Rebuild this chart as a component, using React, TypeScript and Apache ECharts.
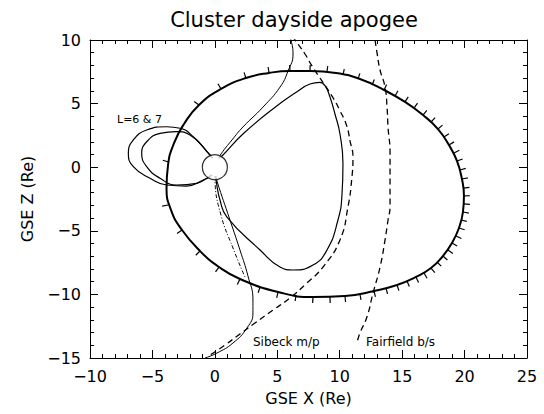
import React, { useEffect, useRef } from "react";
import * as echarts from "echarts";

const titleText = "Cluster dayside apogee";
const xName = "GSE X (Re)";
const zName = "GSE Z (Re)";
const loopLabel = "L=6 & 7";
const mpLabel = "Sibeck m/p";
const bsLabel = "Fairfield b/s";

const earth: number[][] = [[0, 0]];

const orbit: number[][] = [
  [7.62, 7.56], [9.7, 7.41], [11.62, 6.93], [13.55, 6.07], [15.23, 5.13], [16.67, 4.1],
  [17.87, 3.0], [18.75, 1.74], [19.39, 0.49], [19.79, -0.93], [19.95, -2.26], [19.87, -3.52],
  [19.55, -4.78], [18.99, -5.96], [18.27, -6.98], [17.31, -7.93], [16.11, -8.63], [14.59, -9.26],
  [12.75, -9.73], [10.42, -10.13], [7.86, -10.21], [5.06, -9.81], [2.01, -8.79], [0.33, -7.85],
  [-1.19, -6.59], [-2.63, -4.94], [-3.51, -3.37], [-3.87, -1.64], [-3.75, 0.17], [-3.27, 1.9],
  [-2.47, 3.4], [-1.27, 4.89], [0.49, 6.15], [2.49, 7.01], [4.34, 7.41], [6.02, 7.56], [7.62, 7.56],
];

const orbitTicks: number[][] = [
  [-3.71, 0.41], [-3.75, -2.97], [-2.63, -4.94], [-1.19, -6.59], [0.33, -7.85], [2.01, -8.79],
  [3.62, -9.42], [5.06, -9.81], [6.5, -10.05], [7.86, -10.21], [9.22, -10.21], [10.42, -10.13],
  [11.62, -9.97], [12.75, -9.73], [13.71, -9.5], [14.59, -9.26], [15.39, -8.95], [16.11, -8.63],
  [16.75, -8.32], [17.31, -7.93], [17.79, -7.45], [18.27, -6.98], [18.67, -6.51], [18.99, -5.96],
  [19.31, -5.41], [19.55, -4.78], [19.71, -4.15], [19.87, -3.52], [19.95, -2.89], [19.95, -2.26],
  [19.91, -1.64], [19.79, -0.93], [19.63, -0.22], [19.39, 0.49], [19.15, 1.12], [18.75, 1.74],
  [18.35, 2.37], [17.87, 3.0], [17.31, 3.55], [16.67, 4.1], [15.95, 4.65], [15.23, 5.13],
  [14.43, 5.6], [13.55, 6.07], [12.59, 6.46], [11.46, 6.93], [10.26, 7.25], [8.98, 7.48],
  [7.62, 7.56], [6.02, 7.56], [4.34, 7.41], [2.49, 7.01], [0.49, 6.15], [-1.27, 4.89],
];

const northOpen: number[][] = [
  [0.3, 0.7], [0.49, 1.04], [1.37, 2.14], [2.25, 3.16], [3.86, 4.73], [5.22, 6.3],
  [5.86, 7.56], [6.26, 8.9], [6.1, 10.0], [5.95, 10.4],
];

const daysideLoop: number[][] = [
  [0.3, 0.7], [0.57, 0.88], [2.25, 2.61], [4.98, 4.83], [6.55, 5.91], [7.62, 6.54], [8.42, 6.67],
  [8.82, 6.41], [9.22, 5.52], [9.62, 4.18], [10.02, 2.61], [10.26, 0.25], [10.18, -2.19],
  [9.86, -4.15], [8.98, -6.51], [7.86, -7.69], [6.26, -8.08], [5.22, -7.85], [3.62, -6.51],
  [0.97, -3.92], [0.41, -2.58], [0.09, -1.01], [0.05, -0.7],
];

const southOpen: number[][] = [
  [0.1, -0.7], [0.17, -1.09], [1.21, -4.15], [2.01, -6.51], [2.65, -8.55], [3.05, -10.44],
  [3.05, -11.46], [2.57, -12.64], [1.45, -13.82], [0.17, -14.61], [-0.79, -15.0],
];

const southDashDot: number[][] = [
  [0.0, -0.7], [0.01, -1.09], [0.49, -3.76], [1.45, -6.35], [2.41, -8.63],
];

const loopL7: number[][] = [
  [-0.2, 0.7], [-0.39, 0.96], [-1.73, 2.4], [-2.79, 3.06], [-3.86, 3.18], [-5.46, 2.92],
  [-6.53, 2.14], [-6.93, 1.09], [-6.53, 0.04], [-5.19, -0.87], [-3.86, -1.4], [-2.26, -1.48],
  [-0.93, -1.01], [-0.39, -0.75], [-0.2, -0.6],
];

const loopL6: number[][] = [
  [-0.2, 0.7], [-0.39, 0.96], [-1.99, 2.53], [-3.06, 2.79], [-4.39, 2.66], [-5.46, 2.0],
  [-5.86, 1.09], [-5.46, 0.04], [-4.39, -0.87], [-3.06, -1.4], [-1.45, -1.27], [-0.65, -0.87],
  [-0.3, -0.6],
];

const sibeckMP: number[][] = [
  [6.2, 10.3], [6.42, 10.0], [7.22, 8.9], [7.78, 7.96], [9.36, 5.62], [10.02, 4.44], [10.56, 3.26],
  [10.82, 2.08], [11.06, 0.8], [10.98, -0.77], [10.66, -3.13], [10.02, -5.72], [8.66, -7.85],
  [7.38, -9.1], [6.02, -10.28], [4.66, -11.23], [3.21, -12.25], [2.01, -13.11], [0.81, -13.98],
  [-0.39, -14.77],
];

const fairfieldBS: number[][] = [
  [12.83, 10.0], [12.99, 8.98], [13.23, 7.64], [13.63, 6.3], [13.79, 4.73], [13.87, 3.16],
  [14.03, 1.12], [14.03, -1.01], [14.03, -3.13], [13.87, -4.15], [13.63, -5.72], [13.23, -7.85],
  [12.67, -9.89], [12.18, -11.78], [11.62, -13.04], [11.38, -13.82],
];

const FONT = "DejaVu Sans";

function lineSeries(name: string, data: number[][], width: number, type: any, z = 3) {
  return {
    name,
    type: "line",
    data,
    smooth: true,
    showSymbol: false,
    symbol: "none",
    z,
    lineStyle: { color: "#000", width, type },
    silent: true,
  };
}

const fmtTick = (v: number) => (v < 0 ? "\u2212" + Math.abs(v) : String(v));

export default function App() {
  const ref = useRef<HTMLDivElement>(null);
  useEffect(() => {
    if (!ref.current) return;
    const chart = echarts.init(ref.current, undefined, { renderer: "svg" });
    const axisCommon = {
      type: "value",
      interval: 5,
      axisLine: { onZero: false, lineStyle: { color: "#000", width: 1 } },
      axisTick: { inside: true, length: 8, lineStyle: { color: "#000" } },
      minorTick: { show: true, splitNumber: 5, length: 4, lineStyle: { color: "#000" } },
      splitLine: { show: false },
      minorSplitLine: { show: false },
    };
    const option: any = {
      animation: false,
      backgroundColor: "#fff",
      grid: { left: 90, top: 40, width: 437, height: 318 },
      xAxis: [
        {
          ...axisCommon,
          min: -10,
          max: 25,
          position: "bottom",
          name: xName,
          nameLocation: "middle",
          nameGap: 32,
          nameTextStyle: { fontFamily: FONT, fontSize: 16, color: "#000" },
          axisLabel: { fontFamily: FONT, fontSize: 16, color: "#000", margin: 10, formatter: fmtTick },
        },
        {
          ...axisCommon,
          min: -10,
          max: 25,
          position: "top",
          axisLabel: { show: false },
        },
      ],
      yAxis: [
        {
          ...axisCommon,
          min: -15,
          max: 10,
          position: "left",
          name: zName,
          nameLocation: "middle",
          nameGap: 55,
          nameTextStyle: { fontFamily: FONT, fontSize: 16, color: "#000" },
          axisLabel: { fontFamily: FONT, fontSize: 16, color: "#000", margin: 9, formatter: fmtTick },
        },
        {
          ...axisCommon,
          min: -15,
          max: 10,
          position: "right",
          axisLabel: { show: false },
        },
      ],
      series: [
        lineSeries("orbit", orbit, 2, "solid", 4),
        {
          name: "orbitTicks",
          type: "custom",
          data: orbitTicks,
          z: 4,
          silent: true,
          renderItem: (params: any, api: any) => {
            const i = params.dataIndex;
            const n = orbitTicks.length;
            const pts = orbitTicks.map((d) => api.coord(d));
            let cx = 0, cy = 0;
            pts.forEach((p: number[]) => { cx += p[0]; cy += p[1]; });
            cx /= n; cy /= n;
            const p = pts[i];
            const a = pts[(i - 1 + n) % n];
            const b = pts[(i + 1) % n];
            let tx = b[0] - a[0], ty = b[1] - a[1];
            const tl = Math.hypot(tx, ty) || 1;
            tx /= tl; ty /= tl;
            let nx = ty, ny = -tx;
            if (nx * (p[0] - cx) + ny * (p[1] - cy) < 0) { nx = -nx; ny = -ny; }
            const L = 6;
            return {
              type: "line",
              shape: { x1: p[0], y1: p[1], x2: p[0] + nx * L, y2: p[1] + ny * L },
              style: { stroke: "#000", lineWidth: 1.2 },
            };
          },
        },
        lineSeries("northOpen", northOpen, 1, "solid"),
        lineSeries("daysideLoop", daysideLoop, 1.2, "solid"),
        lineSeries("southOpen", southOpen, 1, "solid"),
        lineSeries("southDashDot", southDashDot, 1, [4, 2, 1, 2]),
        lineSeries("loopL7", loopL7, 1.2, "solid"),
        lineSeries("loopL6", loopL6, 1.2, "solid"),
        lineSeries("sibeckMP", sibeckMP, 1.3, [6, 4]),
        lineSeries("fairfieldBS", fairfieldBS, 1.3, [6, 4]),
        {
          name: "earth",
          type: "scatter",
          data: earth,
          symbol: "circle",
          symbolSize: 25,
          z: 10,
          silent: true,
          itemStyle: { color: "#fff", borderColor: "#000", borderWidth: 1.2 },
        },
      ],
      graphic: [
        {
          type: "text",
          x: 294,
          y: 20,
          style: {
            text: titleText,
            fontFamily: FONT,
            fontSize: 21,
            fill: "#000",
            textAlign: "center",
            textVerticalAlign: "middle",
          },
        },
        {
          type: "text",
          x: 117,
          y: 119,
          style: { text: loopLabel, fontFamily: FONT, fontSize: 11, fill: "#000", textVerticalAlign: "middle" },
        },
        {
          type: "text",
          x: 253,
          y: 342,
          style: { text: mpLabel, fontFamily: FONT, fontSize: 12, fill: "#000", textVerticalAlign: "middle" },
        },
        {
          type: "text",
          x: 366,
          y: 342,
          style: { text: bsLabel, fontFamily: FONT, fontSize: 12, fill: "#000", textVerticalAlign: "middle" },
        },
      ],
    };
    chart.setOption(option);
    return () => chart.dispose();
  }, []);
  return (
    <div
      ref={ref}
      style={{ position: "fixed", left: 0, top: 0, width: "544px", height: "414px", background: "#fff" }}
    />
  );
}
